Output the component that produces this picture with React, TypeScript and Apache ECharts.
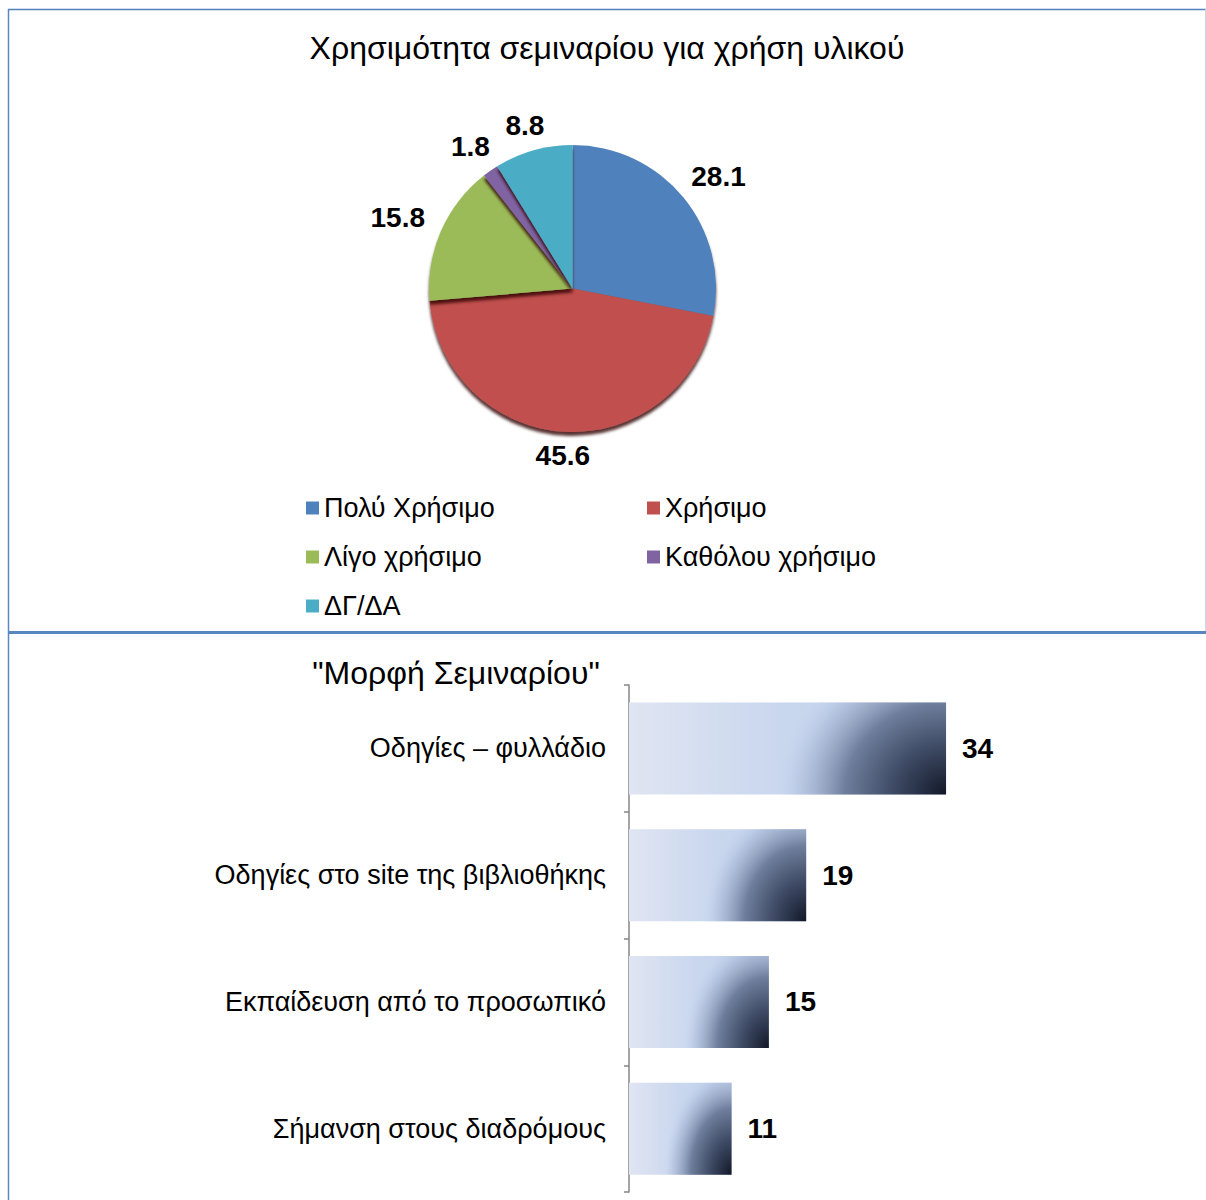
import React, { useEffect, useRef } from "react";
import * as echarts from "echarts";

// Pie: usefulness of the seminar for using the material
const pieTitle = "Χρησιμότητα σεμιναρίου για χρήση υλικού";
const pieCategories = ["Πολύ Χρήσιμο", "Χρήσιμο", "Λίγο χρήσιμο", "Καθόλου χρήσιμο", "ΔΓ/ΔΑ"];
const pieValues = [28.1, 45.6, 15.8, 1.8, 8.8];
const pieColors = ["#4f81bd", "#c0504d", "#9bbb59", "#8064a2", "#4bacc6"];

// Bars: preferred seminar format
const barTitle = '"Μορφή Σεμιναρίου"';
const barCategories = [
  "Οδηγίες – φυλλάδιο",
  "Οδηγίες στο site της βιβλιοθήκης",
  "Εκπαίδευση από το προσωπικό",
  "Σήμανση στους διαδρόμους",
];
const barValues = [34, 19, 15, 11];

const FONT = '"Liberation Sans", Arial, Helvetica, sans-serif';
const PIE_CX = 572.5;
const PIE_CY = 288.5;
const PIE_R = 143.5;
const BAR_WIDTH = 92;

const pieTotal = pieValues.reduce((a, b) => a + b, 0);

function midAngle(i: number): number {
  let before = 0;
  for (let k = 0; k < i; k++) before += pieValues[k];
  const deg = 90 - (360 * (before + pieValues[i] / 2)) / pieTotal;
  return (deg * Math.PI) / 180;
}

const shadeStops = [
  { offset: 0, color: "rgba(18,24,40,1)" },
  { offset: 0.3, color: "rgba(60,72,98,1)" },
  { offset: 0.6, color: "rgba(110,126,156,1)" },
  { offset: 0.85, color: "rgba(170,185,215,0.6)" },
  { offset: 1, color: "rgba(197,213,238,0)" },
];

// Dark corner shading of each bar, laid over the light base bar.
// The polygon covers the right part of the bar; a zero-area spike up the
// right edge stretches its bounding box so the radial gradient becomes an
// ellipse centred on the bar's bottom-right corner.
function renderShade(params: any, api: any) {
  const v = api.value(0);
  const idx = api.value(1);
  const start = api.coord([0, idx]);
  const end = api.coord([v, idx]);
  const w = end[0] - start[0];
  const h = BAR_WIDTH;
  const R = end[0];
  const T = start[1] - h / 2;
  const B = start[1] + h / 2;
  const a = Math.min(w, 0.47 * w + 20);
  const b = Math.max(h, 0.2 * w + 90);
  return {
    type: "polygon",
    shape: {
      points: [
        [R - a, B],
        [R - a, T],
        [R, T],
        [R, B - b],
        [R, T],
        [R, B],
      ],
    },
    style: {
      fill: new echarts.graphic.RadialGradient(1, 1, 1, shadeStops),
    },
  };
}

export default function App() {
  const ref = useRef<HTMLDivElement>(null);

  useEffect(() => {
    if (!ref.current) return;
    const chart = echarts.init(ref.current, undefined, { renderer: "svg" });

    const option: any = {
      animation: false,
      backgroundColor: "#ffffff",
      textStyle: { fontFamily: FONT },
      graphic: [
        {
          type: "line",
          shape: { x1: 8, y1: 9.5, x2: 1206, y2: 9.5 },
          style: { stroke: "#4f81bd", lineWidth: 1.5 },
        },
        {
          type: "line",
          shape: { x1: 8.5, y1: 9, x2: 8.5, y2: 1200 },
          style: { stroke: "#5b87c2", lineWidth: 1.5 },
        },
        {
          type: "line",
          shape: { x1: 1205.5, y1: 9, x2: 1205.5, y2: 631 },
          style: { stroke: "#c9d5e8", lineWidth: 1 },
        },
        {
          type: "line",
          shape: { x1: 8, y1: 632.5, x2: 1206, y2: 632.5 },
          style: { stroke: "#5a86c0", lineWidth: 3 },
        },
        {
          type: "text",
          x: 607,
          y: 48,
          style: {
            text: pieTitle,
            fill: "#000",
            font: `32px ${FONT}`,
            align: "center",
            verticalAlign: "middle",
            textAlign: "center",
            textVerticalAlign: "middle",
          },
        },
        {
          type: "text",
          x: 456,
          y: 673,
          style: {
            text: barTitle,
            fill: "#000",
            font: `32px ${FONT}`,
            align: "center",
            verticalAlign: "middle",
            textAlign: "center",
            textVerticalAlign: "middle",
          },
        },
      ],
      legend: {
        data: pieCategories,
        left: 306,
        top: 493,
        width: 700,
        padding: 0,
        orient: "horizontal",
        selectedMode: false,
        icon: "rect",
        itemWidth: 13,
        itemHeight: 13,
        itemGap: 19,
        textStyle: {
          color: "#000",
          fontSize: 27,
          fontFamily: FONT,
          width: 304,
          lineHeight: 30,
        },
      },
      grid: { left: 629, width: 373, top: 685, height: 507 },
      xAxis: {
        type: "value",
        min: 0,
        max: 40,
        show: false,
      },
      yAxis: {
        type: "category",
        inverse: true,
        data: barCategories,
        axisLine: { show: true, lineStyle: { color: "#868686", width: 1.5 } },
        axisTick: { show: true, length: 5, lineStyle: { color: "#868686", width: 1.5 } },
        axisLabel: { color: "#000", fontSize: 27, fontFamily: FONT, margin: 23 },
        splitLine: { show: false },
      },
      series: [
        {
          type: "pie",
          center: [PIE_CX, PIE_CY],
          radius: PIE_R,
          startAngle: 90,
          clockwise: true,
          data: pieCategories.map((name, i) => ({
            name,
            value: pieValues[i],
            itemStyle: { color: pieColors[i] },
          })),
          itemStyle: {
            shadowBlur: 3,
            shadowOffsetY: 4,
            shadowColor: "rgba(50,0,0,0.8)",
          },
          label: {
            show: true,
            position: "outside",
            formatter: "{c}",
            color: "#000",
            fontSize: 28,
            fontWeight: "bold",
            fontFamily: FONT,
          },
          labelLine: { show: false, length: 10, length2: 0 },
          labelLayout: (p: any) => {
            const ang = midAngle(p.dataIndex);
            const dx = Math.cos(ang);
            const dy = -Math.sin(ang);
            const w = p.labelRect.width;
            const h = p.labelRect.height;
            // labels above/below the pie sit a little closer to it
            const r = PIE_R + 20 - 10 * Math.pow(dy, 4);
            return {
              x: PIE_CX + dx * r + (dx * w) / 2,
              y: PIE_CY + dy * r + (dy * h) / 2,
              align: "center",
              verticalAlign: "middle",
            };
          },
          emphasis: { disabled: true },
        },
        {
          type: "bar",
          data: barValues,
          barWidth: BAR_WIDTH,
          itemStyle: {
            color: new echarts.graphic.LinearGradient(0, 0, 1, 0, [
              { offset: 0, color: "#e0e5f2" },
              { offset: 0.5, color: "#c8d6ee" },
              { offset: 1, color: "#c3d3ee" },
            ]),
          },
          label: {
            show: true,
            position: "right",
            distance: 16,
            color: "#000",
            fontSize: 28,
            fontWeight: "bold",
            fontFamily: FONT,
          },
          emphasis: { disabled: true },
        },
        {
          type: "custom",
          coordinateSystem: "cartesian2d",
          renderItem: renderShade,
          data: barValues.map((v, i) => [v, i]),
          encode: { x: 0, y: 1 },
          silent: true,
          z: 3,
        },
      ],
    };

    chart.setOption(option);
    return () => chart.dispose();
  }, []);

  return (
    <div
      ref={ref}
      style={{ position: "absolute", left: 0, top: 0, width: 1206, height: 1200 }}
    />
  );
}
